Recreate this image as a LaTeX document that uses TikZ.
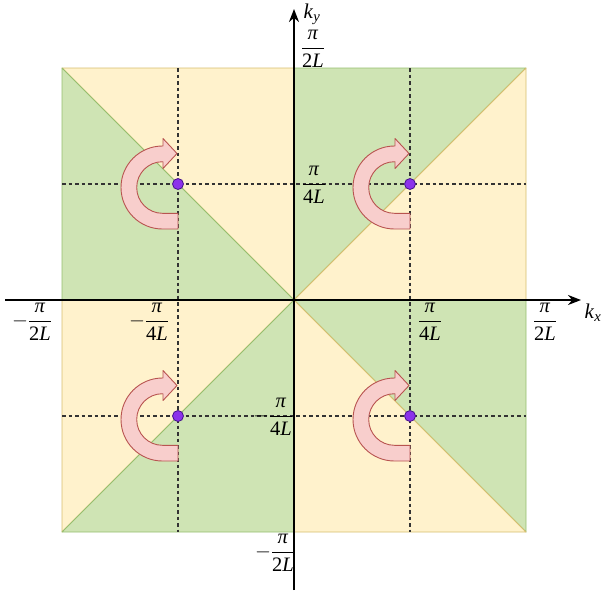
\RequirePackage{fix-cm}
\documentclass[tikz,border=0pt]{standalone}
\usepackage{fontspec}
\setmainfont{Liberation Serif}
\usetikzlibrary{arrows.meta,calc}
\definecolor{gfill}{RGB}{207,228,180}
\definecolor{gline}{RGB}{150,190,110}
\definecolor{yfill}{RGB}{255,242,204}
\definecolor{yline}{RGB}{214,190,110}
\definecolor{afill}{RGB}{248,206,204}
\definecolor{aline}{RGB}{184,84,80}
\definecolor{dotfill}{RGB}{140,50,235}
\definecolor{dotline}{RGB}{70,20,140}
\tikzset{
  gtri/.style={fill=gfill,draw=gline,line width=0.8pt,line join=round},
  ytri/.style={fill=yfill,draw=yline,line width=0.8pt,line join=round},
  guide/.style={draw=black!80,line width=1.2pt,dash pattern=on 3.5pt off 3pt},
  axis/.style={draw=black,line width=2pt,-{Stealth[length=13pt,width=10pt]}},
  lbl/.style={font=\fontsize{20.5}{24}\selectfont,inner sep=0pt},
  klbl/.style={font=\fontsize{21}{24}\selectfont,inner sep=0pt},
  kdot/.style={circle,fill=dotfill,draw=dotline,line width=0.8pt,minimum size=11pt,inner sep=0pt},
  uarrow/.style={fill=afill,draw=aline,line width=0.9pt,line join=round}
}
\newcommand{\uturnat}[1]{%
  \path[uarrow] ($(#1)+(0,45)$) -- ($(#1)+(-15.5,45)$)
    arc[start angle=90,end angle=270,radius=41.5]
    -- ($(#1)+(-15,-38)$) -- ($(#1)+(-15,-45.5)$) -- ($(#1)+(-1,-30.5)$)
    -- ($(#1)+(-15,-15.5)$) -- ($(#1)+(-15,-22.3)$) -- ($(#1)+(-15.5,-22.3)$)
    arc[start angle=270,end angle=90,radius=25.8]
    -- ($(#1)+(0,29.3)$) -- cycle;}
\newcommand{\fr}[2]{\displaystyle\frac{\mbox{#1}}{\mbox{#2}}}
\newcommand{\pii}{\textit{π}}
\begin{document}
\begin{tikzpicture}[x=1pt,y=-1pt]
\useasboundingbox (0,0) rectangle (604,595);
% corners
\coordinate (O) at (294,300);
\coordinate (TL) at (62,68);
\coordinate (TR) at (526,68);
\coordinate (BL) at (62,532);
\coordinate (BR) at (526,532);
\coordinate (T) at (294,68);
\coordinate (B) at (294,532);
\coordinate (L) at (62,300);
\coordinate (R) at (526,300);
% regions
\path[ytri] (TL) -- (T) -- (O) -- cycle;
\path[gtri] (TL) -- (L) -- (O) -- cycle;
\path[gtri] (T) -- (TR) -- (O) -- cycle;
\path[ytri] (TR) -- (R) -- (O) -- cycle;
\path[ytri] (L) -- (O) -- (BL) -- cycle;
\path[gtri] (O) -- (B) -- (BL) -- cycle;
\path[gtri] (O) -- (R) -- (BR) -- cycle;
\path[ytri] (O) -- (BR) -- (B) -- cycle;
% guide lines
\coordinate (v1t) at (178,68); \coordinate (v1b) at (178,532);
\coordinate (v2t) at (410,68); \coordinate (v2b) at (410,532);
\coordinate (h1l) at (62,184); \coordinate (h1r) at (526,184);
\coordinate (h2l) at (62,416); \coordinate (h2r) at (526,416);
\draw[guide] (v1t) -- (v1b);
\draw[guide] (v2t) -- (v2b);
\draw[guide] (h1l) -- (h1r);
\draw[guide] (h2l) -- (h2r);
% dot positions
\coordinate (p1) at (178,184);
\coordinate (p2) at (410,184);
\coordinate (p3) at (178,416);
\coordinate (p4) at (410,416);
% u-turn arrows
\uturnat{p1}
\uturnat{p2}
\uturnat{p3}
\uturnat{p4}
% axes
\coordinate (xs) at (5,300);
\coordinate (xe) at (581,300);
\coordinate (ys) at (294,590);
\coordinate (ye) at (294,9);
\draw[axis] (xs) -- (xe);
\draw[axis] (ys) -- (ye);
% dots
\node[kdot] (d1) at (p1) {};
\node[kdot] (d2) at (p2) {};
\node[kdot] (d3) at (p3) {};
\node[kdot] (d4) at (p4) {};
% labels
\node[klbl] (kx) at (593,313) {\textit{k}\textsubscript{\textit{x}}};
\node[klbl] (ky) at (312,14) {\textit{k}\textsubscript{\textit{y}}};
\node[lbl] (ty2) at (313,49) {$\fr{\pii}{2\textit{L}}$};
\node[lbl] (ty4) at (314,185) {$\fr{\pii}{4\textit{L}}$};
\node[lbl] (lx2) at (32,322) {$-\fr{\pii}{2\textit{L}}$};
\node[lbl] (lx4) at (149,322) {$-\fr{\pii}{4\textit{L}}$};
\node[lbl] (rx4) at (430,322) {$\fr{\pii}{4\textit{L}}$};
\node[lbl] (rx2) at (545,322) {$\fr{\pii}{2\textit{L}}$};
\node[lbl] (by4) at (273,417) {$-\fr{\pii}{4\textit{L}}$};
\node[lbl] (by2) at (275,553) {$-\fr{\pii}{2\textit{L}}$};
\end{tikzpicture}
\end{document}
